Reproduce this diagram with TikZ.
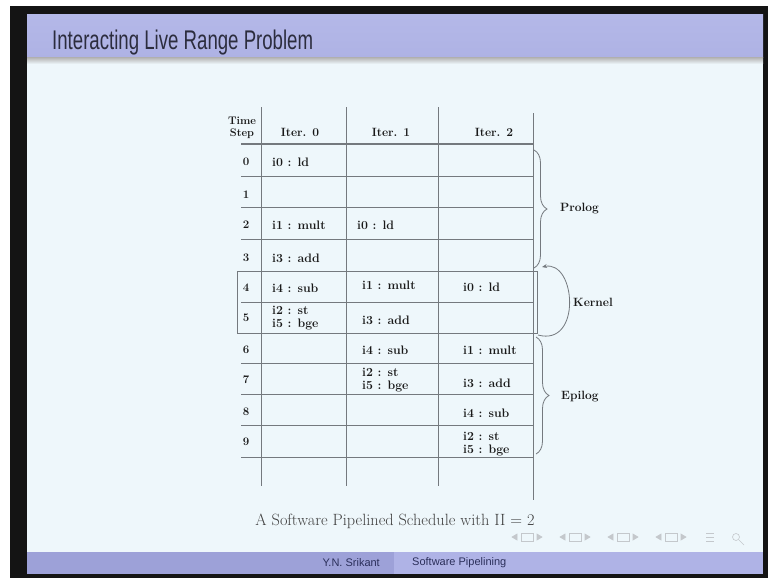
\documentclass[tikz,border=0pt]{standalone}
\usepackage{fontspec}
\newfontfamily\headfont{Liberation Sans}
\usetikzlibrary{decorations.pathreplacing,arrows.meta}

\definecolor{slidebg}{HTML}{EEF7FB}
\definecolor{titlebar}{HTML}{B4B8E8}
\definecolor{titlebarlo}{HTML}{AEB2E4}
\definecolor{footdark}{HTML}{9DA1D8}
\definecolor{footlight}{HTML}{AFB3E6}
\definecolor{titletext}{HTML}{2C2D3E}
\definecolor{foottext}{HTML}{2B2F5A}
\definecolor{gridline}{HTML}{74797E}
\definecolor{navgray}{HTML}{C4C8CC}

\begin{document}
\begin{tikzpicture}[x=1pt,y=-1pt,
  rule/.style={draw=gridline, line width=0.9pt},
  cell/.style={font=\bfseries\fontsize{12.3}{13}\selectfont, inner sep=0pt, anchor=west, text=black!90},
  twoline/.style={cell, align=left},
  colhead/.style={font=\bfseries\fontsize{12}{12}\selectfont, inner sep=0pt, text=black!90},
  stepnum/.style={font=\bfseries\fontsize{11.5}{12}\selectfont, inner sep=0pt, text=black!90},
  phase/.style={font=\bfseries\fontsize{12}{12}\selectfont, inner sep=0pt, anchor=west, text=black!90},
  bracepath/.style={draw=gridline, line width=0.8pt, decorate, decoration={brace, amplitude=13pt}},
  navmark/.style={draw=navgray, line width=0.6pt}
]
\useasboundingbox (0,0) rectangle (768,578);

% screen frame and slide background
\fill[white] (0,0) rectangle (768,578);
\fill[black!92] (10,6) rectangle (768,578);
\fill[slidebg] (27,15) rectangle (763,574);

% title bar with its shadow
\shade[top color=titlebar, bottom color=titlebarlo] (27,15) rectangle (763,58);
\shade[top color=gray!55, bottom color=slidebg] (27,58) rectangle (763,64);
\node[anchor=base west, inner sep=0pt, text=titletext,
      font=\headfont\fontsize{27}{30}\selectfont] (title) at (52,49)
      {\scalebox{0.69}[1]{Interacting Live Range Problem}};

% footer bar
\fill[footdark] (27,552) rectangle (394,574);
\fill[footlight] (394,552) rectangle (763,574);
\node[anchor=east, inner sep=0pt, text=foottext, font=\headfont\fontsize{11}{12}\selectfont] (author) at (380,563) {Y.N. Srikant};
\node[anchor=west, inner sep=0pt, text=foottext, font=\headfont\fontsize{11}{12}\selectfont] (talk) at (412,563) {Software Pipelining};

% navigation symbols
\foreach \gx in {512,560,608,656} {
  \draw[navmark, fill=navgray] (\gx,537) -- (\gx+5,534) -- (\gx+5,540) -- cycle;
  \draw[navmark] (\gx+9,533) rectangle (\gx+21,541);
  \draw[navmark, fill=navgray] (\gx+30,537) -- (\gx+25,534) -- (\gx+25,540) -- cycle;
}
\draw[navmark] (706,533) -- (714,533) (706,537) -- (714,537) (706,541) -- (714,541);
\draw[navmark] (736,537) circle (3.5pt);
\draw[navmark] (739,540) -- (744,545);

% table grid
\foreach \vx in {261,346,438.5} \draw[rule] (\vx,107) -- (\vx,486);
\draw[rule] (533,113) -- (533,500);
\draw[rule, line width=1.4pt] (241,144) -- (533,144);
\foreach \hy in {176,207.5,239.5,271.5,302,333,363.5,394,425.5,457}
  \draw[rule] (241,\hy) -- (533,\hy);
\draw[rule] (237,271) rectangle (537,333);

% column headings
\node[colhead, align=center, font=\bfseries\fontsize{11}{11.5}\selectfont] (hstep) at (242,128) {Time\\Step};
\node[colhead] (hit0) at (300,132) {Iter. 0};
\node[colhead] (hit1) at (391,132) {Iter. 1};
\node[colhead] (hit2) at (494,132) {Iter. 2};

% time steps
\node[stepnum] (t0) at (246,162) {0};
\node[stepnum] (t1) at (246,195) {1};
\node[stepnum] (t2) at (246,225) {2};
\node[stepnum] (t3) at (246,258) {3};
\node[stepnum] (t4) at (246,288) {4};
\node[stepnum] (t5) at (246,318) {5};
\node[stepnum] (t6) at (246,350) {6};
\node[stepnum] (t7) at (246,380) {7};
\node[stepnum] (t8) at (246,412) {8};
\node[stepnum] (t9) at (246,442) {9};

% iteration 0
\node[cell] (a0) at (272,162) {i0 : ld};
\node[cell] (a2) at (272,225) {i1 : mult};
\node[cell] (a3) at (272,258) {i3 : add};
\node[cell] (a4) at (272,288) {i4 : sub};
\node[twoline] (a5) at (272,318.5) {i2 : st\\i5 : bge};

% iteration 1
\node[cell] (b2) at (357,225) {i0 : ld};
\node[cell] (b4) at (362,285) {i1 : mult};
\node[cell] (b5) at (362,320) {i3 : add};
\node[cell] (b6) at (362,350) {i4 : sub};
\node[twoline] (b7) at (362,380.5) {i2 : st\\i5 : bge};

% iteration 2
\node[cell] (c4) at (463,287) {i0 : ld};
\node[cell] (c6) at (463,350) {i1 : mult};
\node[cell] (c7) at (463,383) {i3 : add};
\node[cell] (c8) at (463,413) {i4 : sub};
\node[twoline] (c9) at (463,444.5) {i2 : st\\i5 : bge};

% phases
\coordinate (pro1) at (534,150);
\coordinate (pro2) at (534,268);
\coordinate (epi1) at (536,337);
\coordinate (epi2) at (536,454);
\coordinate (kerA) at (538,335);
\coordinate (kerB) at (542,267);
\draw[bracepath] (pro1) -- (pro2);
\draw[bracepath] (epi1) -- (epi2);
\node[phase] (prolog) at (560,209) {Prolog};
\node[phase] (epilog) at (561,397) {Epilog};
\node[phase] (kernel) at (573,302) {Kernel};
\draw[draw=gridline, line width=0.8pt, -{Stealth[length=5pt,width=4pt]}]
  (kerA) .. controls (582,347) and (576,260) .. (kerB);

% caption
\node[inner sep=0pt, text=black!75, font=\fontsize{16.3}{18}\selectfont] (caption) at (395,521)
  {A Software Pipelined Schedule with II = 2};
\end{tikzpicture}
\end{document}
